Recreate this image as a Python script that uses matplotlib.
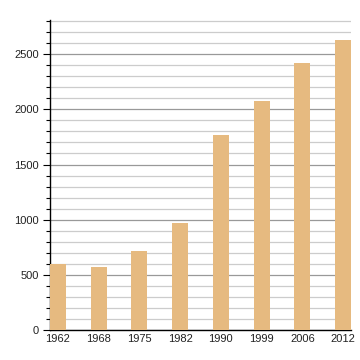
import numpy as np
import matplotlib.pyplot as plt
from matplotlib.ticker import MultipleLocator

plt.rcParams['font.family'] = ['Liberation Sans', 'DejaVu Sans']

# Данные
years = ['1962', '1968', '1975', '1982', '1990', '1999', '2006', '2012']
population = [600, 575, 720, 970, 1770, 2077, 2418, 2627]

fig = plt.figure(figsize=(3.6, 3.6), dpi=100)
ax = fig.add_axes([50 / 360, 30 / 360, 301 / 360, 310 / 360])

x = np.arange(len(years))
ax.bar(x, population, width=0.39, color='#E6BA80', zorder=3)

ax.set_xlim(-0.195, 7.195)
ax.set_ylim(0, 2810)
ax.set_xticks(x)
ax.set_xticklabels(years)

# Сетка
ax.yaxis.set_major_locator(MultipleLocator(500))
ax.yaxis.set_minor_locator(MultipleLocator(100))
ax.grid(True, axis='y', which='major', color='#999999', linewidth=0.9, zorder=0)
ax.grid(True, axis='y', which='minor', color='#cccccc', linewidth=0.9, zorder=0)

for side in ['top', 'right']:
    ax.spines[side].set_visible(False)
ax.spines['left'].set_linewidth(1.0)
ax.spines['bottom'].set_linewidth(1.0)

ax.tick_params(axis='x', length=0, pad=3, labelsize=8, colors='#222222')
ax.tick_params(axis='y', which='major', length=5, width=0.8, labelsize=8, pad=3,
               labelcolor='#222222')
ax.tick_params(axis='y', which='minor', length=3, width=0.8)

fig.savefig('out.png', dpi=100)
